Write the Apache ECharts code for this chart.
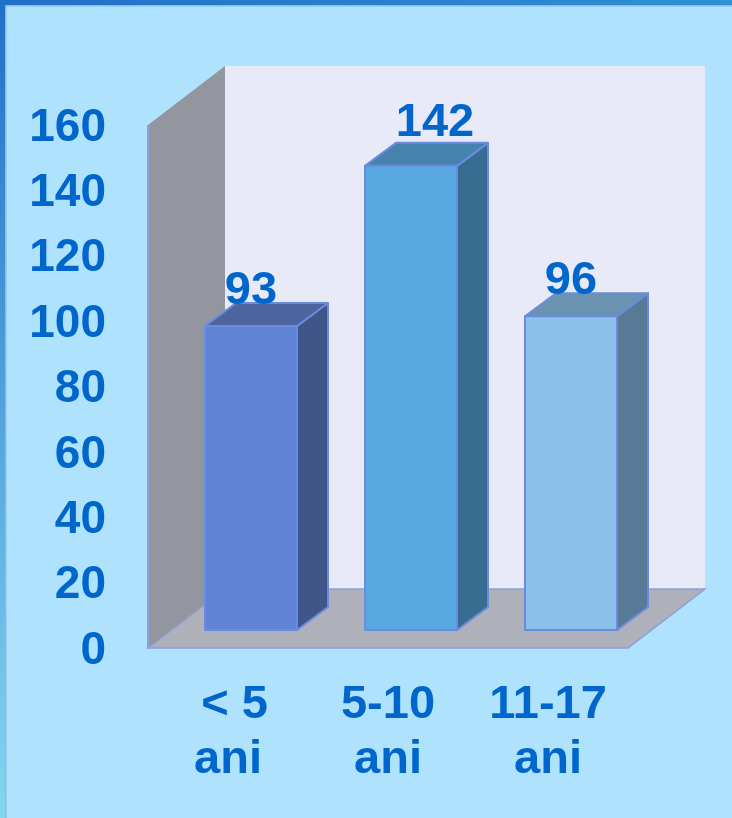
<!DOCTYPE html>
<html>
<head>
<meta charset="utf-8">
<style>html,body{margin:0;padding:0;background:#AFE2FC}#c{width:732px;height:818px}</style>
<script src="https://cdn.jsdelivr.net/npm/echarts@6/dist/echarts.min.js"></script>
</head>
<body>
<div id="c"></div>
<script>
const categories = [' < 5\nani', '5-10\nani', '11-17\nani'];
const values = [93, 142, 96];
const axisMin = 0, axisMax = 160, axisStep = 20;

const frontColors = ['#6083D5', '#58A8E2', '#8AC0EA'];
const topColors = ['#4C659F', '#4682AE', '#6A93B2'];
const sideColors = ['#405588', '#376D90', '#587A96'];
const labelShiftX = [0, 24, 0];
const labelShiftY = [0, -8, 0];

const textBlue = '#0066CC';
const font = '"Liberation Sans", Arial, sans-serif';
const edge = '#6A8CE0';
const wallEdge = '#8C9FDC';
const wallDX = 77, wallDY = -59;
const barDX = 31, barDY = -23;
const barOffX = 23, barOffY = -18;
const barRatio = 0.575;

function poly(points, fill, stroke, w) {
  return { type: 'polygon', shape: { points }, style: { fill, stroke: stroke || 'none', lineWidth: w || 0, lineJoin: 'round' } };
}

function renderWalls(params, api) {
  const g = params.coordSys;
  const L = g.x, R = g.x + g.width, T = g.y, B = g.y + g.height;
  const dx = wallDX, dy = wallDY;
  return {
    type: 'group',
    children: [
      { type: 'rect', shape: { x: L + dx, y: T + dy, width: g.width, height: g.height }, style: { fill: '#E8EBF7' } },
      { type: 'polygon', shape: { points: [[L + dx, B + dy], [R + dx, B + dy], [R, B], [L, B]] },
        style: { fill: '#AEB0BA', stroke: wallEdge, lineWidth: 1.5 } },
      { type: 'polygon', shape: { points: [[L, T], [L + dx, T + dy], [L + dx, B + dy], [L, B]] },
        style: { fill: '#93969E' } },
      { type: 'line', shape: { x1: L, y1: T, x2: L, y2: B }, style: { stroke: wallEdge, lineWidth: 2 } },
      { type: 'line', shape: { x1: L, y1: B, x2: L + dx, y2: B + dy }, style: { stroke: wallEdge, lineWidth: 1 } }
    ]
  };
}

function renderBar(params, api) {
  const i = api.value(0), v = api.value(1);
  const base = api.coord([i, 0]);
  const head = api.coord([i, v]);
  const w = api.size([1, 0])[0] * barRatio;
  const l = base[0] - w / 2 + barOffX, r = l + w;
  const b = base[1] + barOffY, t = head[1] + barOffY;
  const dx = barDX, dy = barDY;
  return {
    type: 'group',
    children: [
      poly([[r, t], [r + dx, t + dy], [r + dx, b + dy], [r, b]], sideColors[i], edge, 2),
      poly([[l, t], [l + dx, t + dy], [r + dx, t + dy], [r, t]], topColors[i], edge, 2),
      poly([[l, t], [r, t], [r, b], [l, b]], frontColors[i], edge, 2),
      { type: 'text', z2: 20, style: {
          x: (l + r) / 2 + labelShiftX[i], y: t + dy - 12 + labelShiftY[i],
          text: String(v), fill: textBlue, font: 'bold 47px ' + font,
          align: 'center', verticalAlign: 'middle' } }
    ]
  };
}

const chart = echarts.init(document.getElementById('c'), null, { renderer: 'canvas' });
chart.setOption({
  animation: false,
  backgroundColor: '#AFE2FC',
  graphic: [
    { type: 'rect', z: -10, shape: { x: 0, y: 0, width: 732, height: 5 },
      style: { fill: new echarts.graphic.LinearGradient(0, 0, 1, 0, [{ offset: 0, color: '#2070C6' }, { offset: 1, color: '#3090D2' }]) } },
    { type: 'rect', z: -10, shape: { x: 0, y: 0, width: 5, height: 818 },
      style: { fill: new echarts.graphic.LinearGradient(0, 0, 0, 1, [{ offset: 0, color: '#2070C6' }, { offset: 1, color: '#80D8F0' }]) } },
    { type: 'rect', z: -10, shape: { x: 5, y: 5, width: 727, height: 1.5 }, style: { fill: '#8CB8EA' } },
    { type: 'rect', z: -10, shape: { x: 5, y: 5, width: 1.5, height: 813 }, style: { fill: '#8CB8EA' } }
  ],
  grid: { left: 148, top: 125, width: 480, height: 523 },
  xAxis: {
    type: 'category',
    data: categories,
    axisLine: { show: false }, axisTick: { show: false }, splitLine: { show: false },
    axisLabel: { color: textBlue, fontFamily: font, fontWeight: 'bold', fontSize: 47, lineHeight: 55, margin: 30, interval: 0 }
  },
  yAxis: {
    type: 'value', min: axisMin, max: axisMax, interval: axisStep,
    axisLine: { show: false }, axisTick: { show: false }, splitLine: { show: false },
    axisLabel: { color: textBlue, fontFamily: font, fontWeight: 'bold', fontSize: 46, margin: 42, verticalAlign: 'top', lineHeight: 6 }
  },
  series: [
    { type: 'custom', coordinateSystem: 'cartesian2d', data: [[0, 0]], renderItem: renderWalls, silent: true, clip: false, z: 1 },
    { type: 'custom', coordinateSystem: 'cartesian2d', data: values.map((v, i) => [i, v]), encode: { x: 0, y: 1 }, renderItem: renderBar, silent: true, clip: false, z: 2 }
  ]
});
</script>
</body>
</html>
